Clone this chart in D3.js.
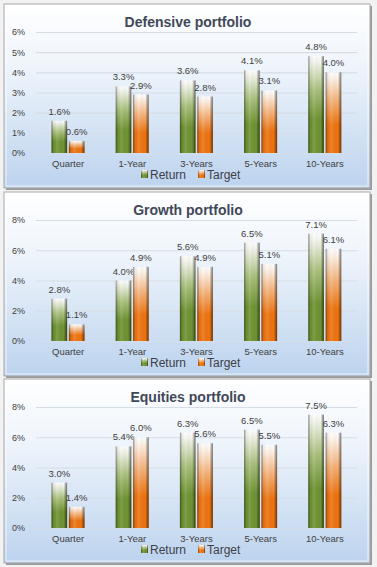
<!DOCTYPE html>
<html><head><meta charset="utf-8">
<script src="https://cdn.jsdelivr.net/npm/d3@7"></script>
<style>
html,body{margin:0;padding:0;background:#f2f2f2;}
svg{display:block;}
text{font-family:"Liberation Sans",Arial,sans-serif;}
</style></head>
<body><div id="chart"></div>
<script>
const categories = ["Quarter","1-Year","3-Years","5-Years","10-Years"];
const seriesNames = ["Return","Target"];
const panelTitles = ["Defensive portfolio","Growth portfolio","Equities portfolio"];
const defensiveReturn = [1.6,3.3,3.6,4.1,4.8];
const defensiveTarget = [0.6,2.9,2.8,3.1,4.0];
const growthReturn = [2.8,4.0,5.6,6.5,7.1];
const growthTarget = [1.1,4.9,4.9,5.1,6.1];
const equitiesReturn = [3.0,5.4,6.3,6.5,7.5];
const equitiesTarget = [1.4,6.0,5.6,5.5,6.3];
const defensiveTicks = [0,1,2,3,4,5,6];
const growthTicks = [0,2,4,6,8];
const equitiesTicks = [0,2,4,6,8];

const panels = [
  {title: panelTitles[0], ret: defensiveReturn, tgt: defensiveTarget, ticks: defensiveTicks, top: 4},
  {title: panelTitles[1], ret: growthReturn, tgt: growthTarget, ticks: growthTicks, top: 192},
  {title: panelTitles[2], ret: equitiesReturn, tgt: equitiesTarget, ticks: equitiesTicks, top: 379}
];

const W = 377, H = 567;
const svg = d3.select("#chart").append("svg").attr("width", W).attr("height", H);
const defs = svg.append("defs");

const bg = defs.append("linearGradient").attr("id","panelBg").attr("x1",0).attr("y1",0).attr("x2",0).attr("y2",1);
bg.append("stop").attr("offset","0%").attr("stop-color","#ffffff");
bg.append("stop").attr("offset","35%").attr("stop-color","#eef4fb");
bg.append("stop").attr("offset","100%").attr("stop-color","#bcd3ee");

const colors = {Return: {light:"#f4f6ee", mid:"#a9c07c", base:"#6f9332", dark:"#55741f"},
                Target: {light:"#fff6ee", mid:"#f6b37a", base:"#ee7410", dark:"#c85a05"}};
seriesNames.forEach(s => {
  const g = defs.append("linearGradient").attr("id","v"+s).attr("x1",0).attr("y1",0).attr("x2",0).attr("y2",1);
  g.append("stop").attr("offset","0%").attr("stop-color","#ffffff");
  g.append("stop").attr("offset","6%").attr("stop-color",colors[s].light);
  g.append("stop").attr("offset","35%").attr("stop-color",colors[s].mid);
  g.append("stop").attr("offset","65%").attr("stop-color",colors[s].base);
  g.append("stop").attr("offset","100%").attr("stop-color",colors[s].base);
});
const hg = defs.append("linearGradient").attr("id","hShade").attr("x1",0).attr("y1",0).attr("x2",1).attr("y2",0);
hg.append("stop").attr("offset","0%").attr("stop-color","#000").attr("stop-opacity",0.45);
hg.append("stop").attr("offset","14%").attr("stop-color","#000").attr("stop-opacity",0.05);
hg.append("stop").attr("offset","35%").attr("stop-color","#fff").attr("stop-opacity",0.12);
hg.append("stop").attr("offset","78%").attr("stop-color","#000").attr("stop-opacity",0.0);
hg.append("stop").attr("offset","100%").attr("stop-color","#000").attr("stop-opacity",0.55);

const px0 = 4, px1 = 370, ph = 184;
const plotL = 36, plotR = 357;

panels.forEach(p => {
  const g = svg.append("g").attr("transform", `translate(0,${p.top})`);
  g.append("rect").attr("x",px0+2).attr("y",2).attr("width",px1-px0).attr("height",ph).attr("fill","#9a9a9a");
  g.append("rect").attr("x",px0).attr("y",0).attr("width",px1-px0).attr("height",ph)
    .attr("fill","url(#panelBg)").attr("stroke","#a8a8a8").attr("stroke-width",1);
  g.append("rect").attr("x",px0+2).attr("y",2).attr("width",px1-px0-4).attr("height",ph-4)
    .attr("fill","none").attr("stroke","#ffffff").attr("stroke-opacity",0.7).attr("stroke-width",1);

  const yMax = p.ticks[p.ticks.length-1];
  const y = d3.scaleLinear().domain([0,yMax]).range([149, 28]);
  const x0 = d3.scaleBand().domain(categories).range([plotL, plotR]).padding(0);
  const x1 = d3.scaleBand().domain(seriesNames).range([15.5, 48.5]).paddingInner(0.1);

  g.append("text").attr("x",188).attr("y",23).attr("text-anchor","middle")
    .attr("font-size","14px").attr("font-weight","bold").attr("fill","#414858").text(p.title);

  const yAxis = d3.axisLeft(y).tickValues(p.ticks).tickSize(-(plotR-plotL)).tickFormat(d => d + "%");
  const ya = g.append("g").attr("transform",`translate(${plotL},0)`).call(yAxis);
  ya.select(".domain").remove();
  ya.selectAll(".tick line").attr("stroke","#d6dde6").attr("stroke-width",1.2);
  ya.selectAll(".tick text").attr("x",-11).attr("font-size","9px").attr("fill","#404040")
    .attr("font-family","Liberation Sans, Arial, sans-serif");

  const xAxis = d3.axisBottom(x0).tickSize(0).tickPadding(7);
  const xa = g.append("g").attr("transform",`translate(0,149)`).call(xAxis);
  xa.select(".domain").remove();
  xa.selectAll(".tick text").attr("font-size","9.5px").attr("fill","#404040")
    .attr("font-family","Liberation Sans, Arial, sans-serif");

  const data = [];
  categories.forEach((c,i) => {
    data.push({cat:c, s:"Return", v:p.ret[i]});
    data.push({cat:c, s:"Target", v:p.tgt[i]});
  });
  const bars = g.append("g").selectAll("g.bar").data(data).join("g").attr("class","bar");
  bars.append("rect").attr("x",d => x0(d.cat)+x1(d.s)).attr("y",d => y(d.v))
    .attr("width",x1.bandwidth()).attr("height",d => y(0)-y(d.v)).attr("fill",d => "url(#v"+d.s+")");
  bars.append("rect").attr("x",d => x0(d.cat)+x1(d.s)).attr("y",d => y(d.v))
    .attr("width",x1.bandwidth()).attr("height",d => y(0)-y(d.v)).attr("fill","url(#hShade)");
  bars.append("text").attr("x",d => x0(d.cat)+x1(d.s)+x1.bandwidth()/2).attr("y",d => y(d.v)-6)
    .attr("text-anchor","middle").attr("font-size","9.5px").attr("fill","#404040")
    .text(d => d.v.toFixed(1) + "%");

  const leg = g.append("g").attr("transform","translate(0,172)");
  const legX = [141, 198];
  seriesNames.forEach((s,i) => {
    leg.append("rect").attr("x",legX[i]).attr("y",-6).attr("width",7).attr("height",8).attr("fill","url(#v"+s+")");
    leg.append("rect").attr("x",legX[i]).attr("y",-6).attr("width",7).attr("height",8).attr("fill","url(#hShade)");
    leg.append("text").attr("x",legX[i]+9).attr("y",3).attr("font-size","12px").attr("fill","#404048").text(s);
  });
});
</script></body></html>
